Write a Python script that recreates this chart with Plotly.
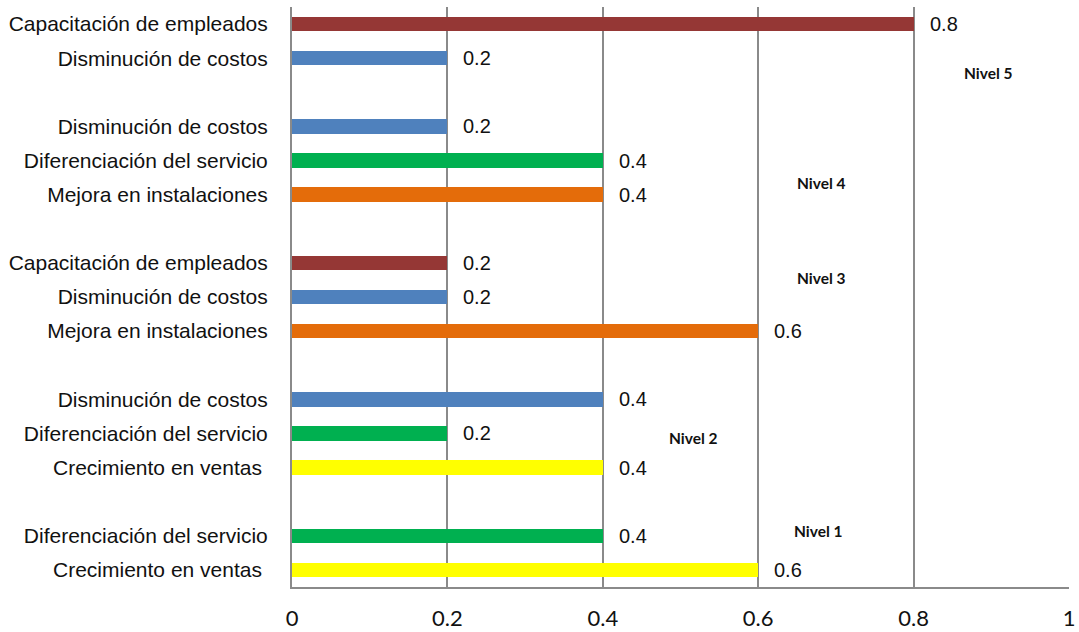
import plotly.graph_objects as go

# Rows listed bottom to top; None marks the empty spacer rows between levels
categories = [
    "Crecimiento en ventas ", "Diferenciación del servicio", None,
    "Crecimiento en ventas ", "Diferenciación del servicio", "Disminución de costos", None,
    "Mejora en instalaciones", "Disminución de costos", "Capacitación de empleados", None,
    "Mejora en instalaciones", "Diferenciación del servicio", "Disminución de costos", None,
    "Disminución de costos", "Capacitación de empleados",
]
values = [
    0.6, 0.4, None,
    0.4, 0.2, 0.4, None,
    0.6, 0.2, 0.2, None,
    0.4, 0.4, 0.2, None,
    0.2, 0.8,
]
level_names = ["Nivel 1", "Nivel 2", "Nivel 3", "Nivel 4", "Nivel 5"]
level_x = [0.677, 0.517, 0.682, 0.681, 0.897]
level_y = [1.14, 3.87, 8.56, 11.34, 14.57]
x_ticks = [0, 0.2, 0.4, 0.6, 0.8, 1]
x_tick_labels = ["0", "0.2", "0.4", "0.6", "0.8", "1"]

palette = {
    "Crecimiento en ventas ": "#FFFF00",
    "Diferenciación del servicio": "#00B050",
    "Disminución de costos": "#4F81BD",
    "Mejora en instalaciones": "#E46C0A",
    "Capacitación de empleados": "#953735",
}

rows = [i for i, c in enumerate(categories) if c is not None]
ys = rows
xs = [values[i] for i in rows]
cols = [palette[categories[i]] for i in rows]

fig = go.Figure()
fig.add_trace(go.Bar(
    x=xs, y=ys, orientation="h",
    marker=dict(color=cols, line=dict(width=0)),
    width=0.42, hoverinfo="skip",
))

# Value labels to the right of each bar
for y, x in zip(ys, xs):
    fig.add_annotation(
        x=x, y=y, text=f"{x:g}", showarrow=False, xanchor="left",
        xshift=14, font=dict(family="Liberation Sans, Arial", size=20, color="#111111"),
    )

# Level labels
for name, lx, ly in zip(level_names, level_x, level_y):
    fig.add_annotation(
        x=lx, y=ly, text=f"<b>{name}</b>", showarrow=False,
        font=dict(family="Lato, Carlito, sans-serif", size=15.5, color="#111111"),
    )

fig.update_layout(
    width=1079, height=632,
    margin=dict(l=292, r=10, t=7, b=45),
    paper_bgcolor="white", plot_bgcolor="white",
    showlegend=False, bargap=0,
    xaxis=dict(
        range=[0, 1], tickvals=x_ticks, ticktext=x_tick_labels,
        showgrid=True, gridcolor="#8a8a8a", gridwidth=2,
        showline=True, linecolor="#8a8a8a", linewidth=2,
        zeroline=False, ticks="", ticklabelstandoff=11, automargin=False,
        tickfont=dict(family="Lato, Carlito, sans-serif", size=22, color="#111111"),
        fixedrange=True,
    ),
    yaxis=dict(
        range=[-0.5, 16.5], tickvals=ys, ticktext=[categories[i] for i in rows],
        showgrid=False, showline=True, linecolor="#8a8a8a", linewidth=2,
        zeroline=False, ticks="", ticklabelstandoff=18, automargin=False,
        tickfont=dict(family="Liberation Sans, Arial", size=21, color="#111111"),
        fixedrange=True,
    ),
)

fig.write_html("out.html")
